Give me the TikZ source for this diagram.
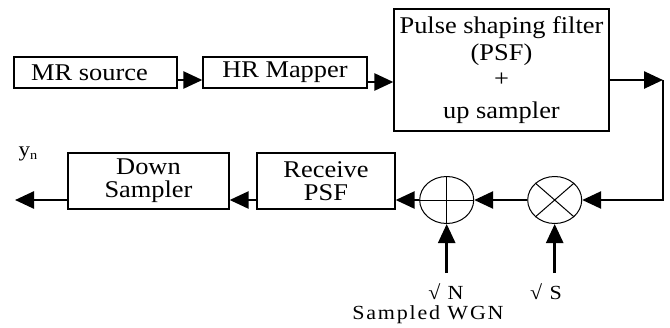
\documentclass[tikz,border=0pt]{standalone}
\usepackage{fontspec}
\setmainfont[FakeStretch=1.1]{Liberation Serif}
\usetikzlibrary{arrows.meta,shapes.geometric}
\begin{document}
\begin{tikzpicture}[x=1pt,y=-1pt,
  box/.style={draw, line width=1.3pt, inner sep=0pt, align=center,
    font=\fontsize{24}{23}\selectfont},
  sumnode/.style={draw, ellipse, line width=1pt, inner sep=0pt,
    minimum width=54pt, minimum height=47pt},
  conn/.style={line width=2.6pt, -{Triangle[length=19pt,width=17pt]}},
  lbl/.style={inner sep=0pt, font=\fontsize{20}{21}\selectfont\addfontfeature{LetterSpace=9}}]
\useasboundingbox (0,0) rectangle (670,327);
% top row
\node[box, minimum width=163pt, minimum height=31pt] (mr) at (95.5,72.5) {MR source\hspace{12pt}};
\node[box, minimum width=164pt, minimum height=31pt] (hr) at (285,72.5) {HR Mapper};
\node[box, minimum width=215pt, minimum height=122pt] (psf) at (501.5,70)
  {Pulse shaping filter\\[4pt](PSF)\\[3pt]+\\[9pt]up sampler};
% bottom row
\node[box, minimum width=161pt, minimum height=56pt] (down) at (148.5,181) {Down\\Sampler};
\node[box, minimum width=138pt, minimum height=56pt] (rpsf) at (326,181) {Receive\\PSF};
\node[sumnode] (add) at (446.7,200) {};
\node[sumnode] (mult) at (554.7,200) {};
\draw[line width=1pt] (add.north) -- (add.south) (add.west) -- (add.east);
\draw[line width=1pt] (mult.north east) -- (mult.south west) (mult.north west) -- (mult.south east);
% coordinates
\coordinate (c1) at (663,80);
\coordinate (out) at (15,200);
\coordinate (nin) at (446.7,273);
\coordinate (sin) at (554.7,273);
% connectors
\draw[conn] ([yshift=-7.5pt]mr.east) -- ([yshift=-7.5pt]hr.west);
\draw[conn] ([yshift=-9.5pt]hr.east) -- ([yshift=-12pt]psf.west);
\draw[conn] ([yshift=-10pt]psf.east) -- (c1);
\draw[conn] (c1) |- (mult.east);
\draw[conn] (mult.west) -- (add.east);
\draw[conn] (add.west) -- (rpsf.east |- add);
\draw[conn] (rpsf.west |- add) -- (down.east |- add);
\draw[conn] (down.west |- out) -- (out);
\draw[conn] (nin) -- (add.south);
\draw[conn] (sin) -- (mult.south);
% labels
\node[lbl] (ln) at (446,292) {√ N};
\node[lbl] (ls) at (546,292) {√ S};
\node[lbl] (lw) at (428,315) {Sampled WGN};
\node[inner sep=0pt, font=\fontsize{21}{22}\selectfont] (yn) at (28,154) {y\raisebox{-3pt}{\fontsize{13}{13}\selectfont n}};
\end{tikzpicture}
\end{document}
